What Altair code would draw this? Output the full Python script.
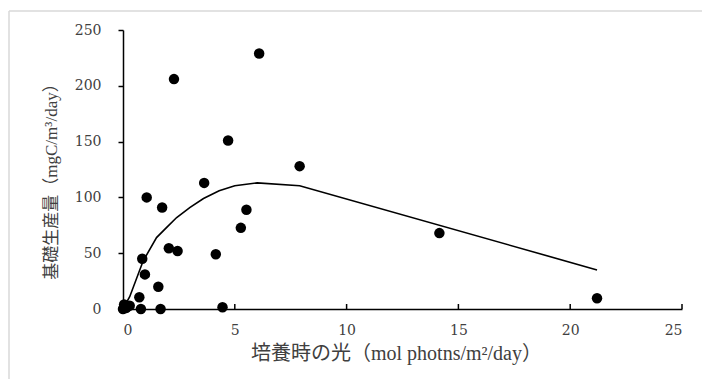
import altair as alt
import pandas as pd

# ---- data ----
light_x = [0.0, 0.05, 0.15, 0.3, 0.73, 0.8, 0.86, 0.98, 1.06, 1.58, 1.68, 1.75,
           2.05, 2.28, 2.44, 3.63, 4.15, 4.45, 4.7, 5.27, 5.52, 6.09, 7.9, 14.15, 21.2]
prod_y = [0.0, 4.0, 1.0, 3.0, 10.5, 0.0, 45.0, 31.0, 100.0, 20.0, 0.0, 91.0,
          54.5, 206.0, 52.0, 113.0, 49.0, 1.5, 151.0, 72.7, 89.0, 229.0, 128.0, 68.0, 9.6]

fit_x = [0.0, 0.3, 0.9, 1.5, 2.0, 2.4, 3.0, 3.6, 4.3, 5.0, 6.0, 7.9, 21.2]
fit_y = [0.0, 11.0, 43.0, 64.0, 74.0, 82.0, 91.0, 99.0, 106.0, 110.5, 113.0, 110.5, 35.0]

x_ticks = [0, 5, 10, 15, 20, 25]
y_ticks = [0, 50, 100, 150, 200, 250]

x_title = "培養時の光（mol photns/m²/day）"
y_title = "基礎生産量（mgC/m³/day）"

NUM_FONT = "DejaVu Serif"
TITLE_FONT = "Liberation Serif, 'Noto Sans CJK JP'"
TEXT_COLOR = "#404040"

W, H = 559, 279

pts = pd.DataFrame({"x": light_x, "y": prod_y})
fit = pd.DataFrame({"x": fit_x, "y": fit_y})
xt = pd.DataFrame({"x": x_ticks[1:]})
one = pd.DataFrame({"a": [0]})

xscale = alt.Scale(domain=[0, 25], nice=False, zero=True)
yscale = alt.Scale(domain=[0, 250], nice=False, zero=True)

x_axis = alt.Axis(values=x_ticks, ticks=False, grid=False, domainColor="black",
                  domainWidth=1.5, labelFont=NUM_FONT, labelFontSize=14,
                  labelColor=TEXT_COLOR, labelPadding=14, title=x_title,
                  titleFont=TITLE_FONT, titleFontSize=20, titleFontWeight="normal",
                  titleColor=TEXT_COLOR, titlePadding=6, titleX=273)
y_axis = alt.Axis(values=y_ticks, ticks=True, tickSize=5, tickColor="black",
                  tickWidth=1.5, grid=False, domainColor="black", domainWidth=1.5,
                  labelFont=NUM_FONT, labelFontSize=14, labelColor=TEXT_COLOR,
                  labelPadding=17, title=y_title, titleFont=TITLE_FONT,
                  titleFontSize=17, titleFontWeight="normal", titleColor=TEXT_COLOR,
                  titlePadding=14, titleY=147)

x_enc = alt.X("x:Q", scale=xscale, axis=x_axis)
y_enc = alt.Y("y:Q", scale=yscale, axis=y_axis)

line = alt.Chart(fit).mark_line(color="black", strokeWidth=1.6).encode(x=x_enc, y=y_enc)
points = alt.Chart(pts).mark_circle(color="black", opacity=1, size=110).encode(x=x_enc, y=y_enc)
xtick_marks = alt.Chart(xt).mark_rule(color="black", strokeWidth=1.5).encode(
    x=x_enc, y=alt.value(H), y2=alt.value(H - 5))

border_top = alt.Chart(one).mark_rule(color="#d9d9d9", strokeWidth=1.5).encode(
    x=alt.value(-114), x2=alt.value(800), y=alt.value(-19))
border_left = alt.Chart(one).mark_rule(color="#d9d9d9", strokeWidth=1.5).encode(
    x=alt.value(-114), y=alt.value(-19), y2=alt.value(500))

chart = alt.layer(border_top, border_left, line, points, xtick_marks).properties(
    width=W, height=H,
    autosize=alt.AutoSizeParams(type="none"),
    padding={"left": 115, "top": 22, "right": 20, "bottom": 70},
    background="white",
).configure_view(stroke=None)

chart.save("out.html", embed_options={"renderer": "svg", "actions": False})
